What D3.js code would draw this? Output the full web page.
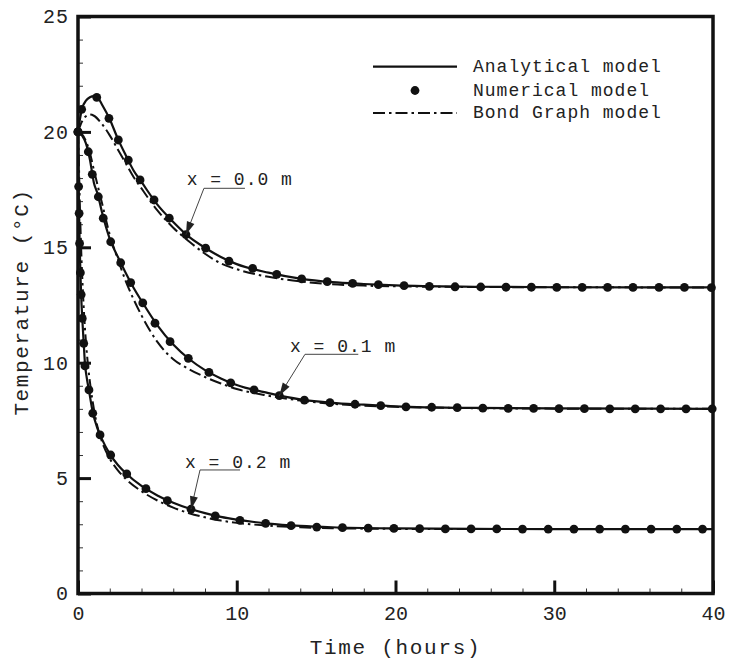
<!DOCTYPE html>
<html><head><meta charset="utf-8">
<script src="https://cdn.jsdelivr.net/npm/d3@7"></script>
<style>body{margin:0;background:#fff}svg{display:block}</style>
</head><body>
<svg id="chart" width="729" height="666"></svg>
<script>
// ---------- data ----------
const xTicks = [0, 10, 20, 30, 40];
const yTicks = [0, 5, 10, 15, 20, 25];
const seriesNames = ["Analytical model", "Numerical model", "Bond Graph model"];
const curveLabels = ["x = 0.0 m", "x = 0.1 m", "x = 0.2 m"];

// Analytical model
const anaT0 = [0,0.25,0.5,0.75,1,1.25,1.5,2,2.5,3,3.5,4,5,6,7,8,9,10,12,14,16,18,20,25,30,40];
const anaV0 = [20,21.0,21.35,21.5,21.55,21.48,21.2,20.55,19.72,19.0,18.33,17.83,16.85,16.1,15.45,14.98,14.58,14.27,13.9,13.64,13.49,13.41,13.35,13.29,13.27,13.26];
const anaT1 = [0,0.25,0.5,0.75,1,1.25,1.5,2,2.5,3,3.5,4,5,6,7,8,9,10,12,14,16,18,20,25,30,40];
const anaV1 = [20,19.85,19.5,18.8,17.8,17.28,16.55,15.37,14.6,13.9,13.25,12.68,11.62,10.79,10.16,9.68,9.32,9.03,8.68,8.41,8.26,8.18,8.11,8.04,8.02,8.0];
const anaT2 = [0,0.04,0.07,0.1,0.15,0.2,0.27,0.36,0.44,0.55,0.69,0.93,1.2,1.5,2,2.5,3,4,5,6,7,8,9,10,12,14,16,20,25,30,40];
const anaV2 = [20,17.6,16.5,15.3,13.95,12.9,11.9,10.85,9.95,9.35,8.8,7.85,7.2,6.7,6.05,5.58,5.22,4.66,4.25,3.93,3.68,3.48,3.32,3.2,3.03,2.93,2.87,2.82,2.8,2.79,2.79];

// Numerical model
const numT0 = [0,0.23,1.18,1.95,2.54,3.17,3.91,4.79,5.75,6.8,8.04,9.51,11.0,12.52,14.09,15.7,17.3,18.92,20.54,22.13,23.75,25.37,26.96,28.56,30.16,31.76,33.36,34.96,36.6,38.2,39.9];
const numV0 = [20,20.98,21.5,20.59,19.65,18.78,17.92,17.05,16.26,15.55,14.96,14.40,14.09,13.83,13.63,13.51,13.44,13.38,13.34,13.31,13.29,13.28,13.27,13.27,13.26,13.26,13.26,13.26,13.26,13.26,13.25];
const numT1 = [0,0.65,0.9,1.28,1.59,2.06,2.69,3.32,4.08,4.85,5.8,6.95,8.25,9.62,11.09,12.68,14.26,15.87,17.45,19.07,20.66,22.28,23.89,25.5,27.1,28.7,30.3,31.9,33.5,35.1,36.7,38.3,39.95];
const numV1 = [20,19.14,18.16,17.19,16.26,15.24,14.33,13.47,12.59,11.71,10.91,10.19,9.58,9.13,8.82,8.57,8.38,8.27,8.20,8.14,8.09,8.07,8.05,8.03,8.02,8.02,8.01,8.01,8.0,8.0,8.0,8.0,8.0];
const numT2 = [0,0.04,0.07,0.1,0.15,0.2,0.27,0.36,0.44,0.69,0.93,1.39,2.06,3.07,4.28,5.63,7.12,8.65,10.2,11.82,13.42,15.04,16.66,18.28,19.9,21.52,23.14,24.76,26.38,28.0,29.62,31.24,32.86,34.48,36.1,37.72,39.34];
const numV2 = [20,17.63,16.47,15.17,13.9,12.95,11.92,10.84,9.86,8.82,7.81,6.87,6.0,5.18,4.54,4.02,3.65,3.36,3.17,3.04,2.94,2.88,2.85,2.83,2.82,2.81,2.8,2.8,2.8,2.79,2.79,2.79,2.79,2.79,2.79,2.79,2.79];

// Bond Graph model
const bgT0 = [0,0.25,0.5,0.75,1,1.5,2,2.5,3,3.5,4,5,6,7,8,9,10,12,14,16,18,20,25,30,40];
const bgV0 = [20,20.45,20.68,20.75,20.7,20.35,19.85,19.25,18.65,18.05,17.55,16.6,15.85,15.25,14.72,14.3,14.05,13.72,13.52,13.4,13.34,13.31,13.28,13.27,13.26];
const bgT1 = [0,0.25,0.5,0.75,1,1.5,2,2.5,3,3.5,4,5,6,7,8,9,10,12,14,16,18,20,25,30,40];
const bgV1 = [20,19.9,19.6,19.1,18.35,16.95,15.55,14.5,13.55,12.75,12.05,10.9,10.15,9.72,9.38,9.1,8.86,8.57,8.36,8.22,8.14,8.09,8.03,8.01,8.0];
const bgT2 = [0,0.05,0.1,0.15,0.2,0.3,0.4,0.5,0.6,0.8,1.0,1.2,1.5,2,2.5,3,4,5,6,7,8,9,10,12,14,16,20,25,30,40];
const bgV2 = [20,18.8,17.3,16.0,14.9,13.2,11.9,10.9,10.1,8.9,8.0,7.3,6.6,5.85,5.35,4.97,4.43,4.03,3.72,3.48,3.3,3.16,3.06,2.94,2.87,2.83,2.8,2.79,2.79,2.79];

// ---------- drawing ----------
const svg = d3.select("#chart");
const mLeft = 78, mRight = 713, mTop = 16.5, mBottom = 593.5;
const x = d3.scaleLinear().domain([0, 40]).range([mLeft, mRight]);
const y = d3.scaleLinear().domain([0, 25]).range([mBottom, mTop]);
const FONT = "'Liberation Mono', 'DejaVu Sans Mono', monospace";

const zip = (ts, vs) => ts.map((t, i) => ({t, v: vs[i]}));
const ana = [zip(anaT0, anaV0), zip(anaT1, anaV1), zip(anaT2, anaV2)];
const num = [zip(numT0, numV0), zip(numT1, numV1), zip(numT2, numV2)];
const bg  = [zip(bgT0, bgV0), zip(bgT1, bgV1), zip(bgT2, bgV2)];

const line = d3.line().x(d => x(d.t)).y(d => y(d.v)).curve(d3.curveMonotoneX);
const DASHDOT = "12,4,2.5,4";

const xMinor = d3.range(0, 41, 2).filter(v => v % 10 !== 0);
const yMinor = d3.range(0, 26, 1).filter(v => v % 5 !== 0);

const gx = svg.append("g").attr("transform", `translate(0,${mBottom})`)
  .call(d3.axisBottom(x).tickValues(xTicks).tickSize(-13).tickPadding(9).tickFormat(d3.format("d")));
gx.select(".domain").remove();
gx.selectAll(".tick line").attr("stroke", "#111").attr("stroke-width", 3);
gx.selectAll(".tick text").attr("font-family", FONT).attr("font-size", 20).attr("fill", "#222")
  .attr("dy", "0.85em");
const gxm = svg.append("g").attr("transform", `translate(0,${mBottom})`)
  .call(d3.axisBottom(x).tickValues(xMinor).tickSize(-5).tickFormat(""));
gxm.select(".domain").remove();
gxm.selectAll(".tick line").attr("stroke", "#333").attr("stroke-width", 1);

const gy = svg.append("g").attr("transform", `translate(${mLeft},0)`)
  .call(d3.axisLeft(y).tickValues(yTicks).tickSize(-13).tickPadding(9).tickFormat(d3.format("d")));
gy.select(".domain").remove();
gy.selectAll(".tick line").attr("stroke", "#111").attr("stroke-width", 3);
gy.selectAll(".tick text").attr("font-family", FONT).attr("font-size", 20).attr("fill", "#222")
  .attr("letter-spacing", 1);
const gym = svg.append("g").attr("transform", `translate(${mLeft},0)`)
  .call(d3.axisLeft(y).tickValues(yMinor).tickSize(-5).tickFormat(""));
gym.select(".domain").remove();
gym.selectAll(".tick line").attr("stroke", "#333").attr("stroke-width", 1);

const gc = svg.append("g");
bg.forEach(s => gc.append("path").attr("d", line(s)).attr("fill", "none")
  .attr("stroke", "#111").attr("stroke-width", 2).attr("stroke-dasharray", DASHDOT));
ana.forEach(s => gc.append("path").attr("d", line(s)).attr("fill", "none")
  .attr("stroke", "#111").attr("stroke-width", 2.2));
num.forEach(s => gc.selectAll(null).data(s).enter().append("circle")
  .attr("cx", d => x(d.t)).attr("cy", d => y(d.v)).attr("r", 4.4).attr("fill", "#111"));

svg.append("rect").attr("x", mLeft).attr("y", mTop).attr("width", mRight - mLeft).attr("height", mBottom - mTop)
  .attr("fill", "none").attr("stroke", "#111").attr("stroke-width", 3.5);

const annos = [
  {label: curveLabels[0], pt: num[0][9],  text: [0.7, -54.6], h: [18, 59, -46.3]},
  {label: curveLabels[1], pt: num[1][15], text: [10.7, -49], h: [25.7, 79, -41.4]},
  {label: curveLabels[2], pt: num[2][16], text: [-6, -46], h: [9, 49, -39.3]}
];
annos.forEach(a => {
  const px = x(a.pt.t), py = y(a.pt.v);
  svg.append("text").attr("x", px + a.text[0]).attr("y", py + a.text[1])
    .attr("dominant-baseline", "central").attr("font-family", FONT).attr("font-size", 18)
    .attr("letter-spacing", 1.0).attr("fill", "#222").text(a.label);
  const hx0 = px + a.h[0], hx1 = px + a.h[1], hy = py + a.h[2];
  svg.append("path").attr("d", `M${hx1},${hy}H${hx0}L${px},${py}`)
    .attr("fill", "none").attr("stroke", "#444").attr("stroke-width", 1);
  const ang = Math.atan2(py - hy, px - hx0);
  const L = 13, Wd = 4;
  const bx = px - L * Math.cos(ang), by = py - L * Math.sin(ang);
  const nx = -Math.sin(ang) * Wd, ny = Math.cos(ang) * Wd;
  svg.append("path").attr("d", `M${px},${py}L${bx + nx},${by + ny}L${bx - nx},${by - ny}Z`)
    .attr("fill", "#222");
});

const lg = svg.append("g");
const lgX0 = 373, lgX1 = 457, lgTx = 473, lgY = [66.7, 90.5, 113];
lg.append("line").attr("x1", lgX0).attr("x2", lgX1).attr("y1", lgY[0]).attr("y2", lgY[0])
  .attr("stroke", "#111").attr("stroke-width", 2.2);
lg.append("circle").attr("cx", (lgX0 + lgX1) / 2).attr("cy", lgY[1]).attr("r", 4.4).attr("fill", "#111");
lg.append("line").attr("x1", lgX0).attr("x2", lgX1).attr("y1", lgY[2]).attr("y2", lgY[2])
  .attr("stroke", "#111").attr("stroke-width", 2).attr("stroke-dasharray", DASHDOT);
seriesNames.forEach((n, i) => lg.append("text").attr("x", lgTx).attr("y", lgY[i])
  .attr("dominant-baseline", "central").attr("font-family", FONT).attr("font-size", 18)
  .attr("letter-spacing", 1.0).attr("fill", "#222").text(n));

svg.append("text").attr("x", (mLeft + mRight) / 2).attr("y", 648).attr("text-anchor", "middle")
  .attr("dominant-baseline", "central").attr("font-family", FONT).attr("font-size", 21)
  .attr("letter-spacing", 1.7).attr("fill", "#222").text("Time (hours)");
svg.append("text").attr("transform", "translate(22,302) rotate(-90)").attr("text-anchor", "middle")
  .attr("dominant-baseline", "central").attr("font-family", FONT).attr("font-size", 21)
  .attr("letter-spacing", 1.6).attr("fill", "#222").text("Temperature (°C)");
</script>
</body></html>
